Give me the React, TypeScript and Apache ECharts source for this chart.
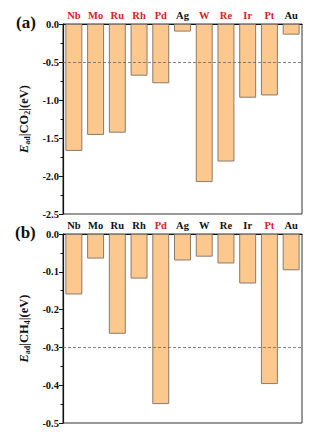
import React, { useEffect, useRef } from "react";
import * as echarts from "echarts";

const metals = ["Nb", "Mo", "Ru", "Rh", "Pd", "Ag", "W", "Re", "Ir", "Pt", "Au"];
const co2Values = [-1.67, -1.46, -1.43, -0.68, -0.78, -0.1, -2.08, -1.81, -0.97, -0.94, -0.14];
const ch4Values = [-0.16, -0.065, -0.264, -0.118, -0.45, -0.07, -0.06, -0.078, -0.131, -0.397, -0.096];
const redTop = ["Nb", "Mo", "Ru", "Rh", "Pd", "W", "Re", "Ir", "Pt"];
const redBottom = ["Pd", "Pt"];
const co2Threshold = -0.5;
const ch4Threshold = -0.3;

const FONT = "'Liberation Serif', 'Times New Roman', serif";
const RED = "#d42323";

export default function App() {
  const ref = useRef<HTMLDivElement>(null);
  useEffect(() => {
    if (!ref.current) return;
    const chart = echarts.init(ref.current, null, { renderer: "svg" });
    const cat = (reds: string[]) =>
      metals.map((m) => ({
        value: m,
        textStyle: { color: reds.includes(m) ? RED : "#111" },
      }));
    const xAxisBase = {
      type: "category" as const,
      position: "top" as const,
      axisLine: { show: true, lineStyle: { color: "#111", width: 1.2 } },
      axisTick: { show: false },
      axisLabel: {
        fontFamily: FONT,
        fontWeight: "bold",
        fontSize: 10.5,
        margin: 3,
        interval: 0,
      },
    };
    const yAxisBase = {
      type: "value" as const,
      max: 0,
      nameLocation: "middle" as const,
      nameRotate: 90,
      axisLine: { show: true, lineStyle: { color: "#111", width: 1.2 } },
      axisTick: { show: true, length: 4, lineStyle: { color: "#111" } },
      minorTick: { show: true, splitNumber: 2, length: 2.5, lineStyle: { color: "#111" } },
      splitLine: { show: false },
      axisLabel: {
        fontFamily: FONT,
        fontWeight: "bold",
        fontSize: 10.5,
        color: "#111",
        margin: 4,
        formatter: (v: number) => v.toFixed(1),
      },
    };
    const nameStyle = {
      fontFamily: FONT,
      fontWeight: "bold",
      fontSize: 12.5,
      color: "#111",
      rich: {
        i: { fontFamily: FONT, fontWeight: "bold", fontStyle: "italic", fontSize: 12.5, color: "#111", lineHeight: 15 },
        n: { fontFamily: FONT, fontWeight: "bold", fontSize: 12.5, color: "#111", lineHeight: 15 },
        s: { fontFamily: FONT, fontWeight: "bold", fontSize: 8, color: "#111", verticalAlign: "bottom", lineHeight: 10, padding: [4, 0, 0, 0] },
      },
    };
    const barStyle = {
      color: "#fdc88e",
      borderColor: "#8a7b6c",
      borderWidth: 1,
    };
    const mark = (v: number) => ({
      silent: true,
      symbol: "none",
      label: { show: false },
      lineStyle: { type: [3, 2], color: "#666", width: 0.8 },
      data: [{ yAxis: v }],
    });
    chart.setOption({
      animation: false,
      grid: [
        { left: 63, top: 24, width: 239, height: 190, show: true, borderColor: "#333", borderWidth: 1 },
        { left: 63, top: 234, width: 239, height: 189, show: true, borderColor: "#333", borderWidth: 1 },
      ],
      xAxis: [
        { ...xAxisBase, gridIndex: 0, data: cat(redTop) },
        { ...xAxisBase, gridIndex: 1, data: cat(redBottom) },
      ],
      yAxis: [
        {
          ...yAxisBase,
          gridIndex: 0,
          min: -2.5,
          interval: 0.5,
          name: "{i|E}{s|ad}{n||CO}{s|2}{n||(eV)}",
          nameGap: 31,
          nameTextStyle: nameStyle,
        },
        {
          ...yAxisBase,
          gridIndex: 1,
          min: -0.5,
          interval: 0.1,
          name: "{i|E}{s|ad}{n||CH}{s|4}{n||(eV)}",
          nameGap: 31,
          nameTextStyle: nameStyle,
        },
      ],
      graphic: [
        { type: "text", left: 16, top: 14, style: { text: "(a)", font: `bold 17px ${FONT}`, fill: "#111" } },
        { type: "text", left: 15, top: 224, style: { text: "(b)", font: `bold 17px ${FONT}`, fill: "#111" } },
      ],
      series: [
        {
          type: "bar",
          xAxisIndex: 0,
          yAxisIndex: 0,
          data: co2Values,
          barCategoryGap: "22%",
          itemStyle: barStyle,
          markLine: mark(co2Threshold),
        },
        {
          type: "bar",
          xAxisIndex: 1,
          yAxisIndex: 1,
          data: ch4Values,
          barCategoryGap: "22%",
          itemStyle: barStyle,
          markLine: mark(ch4Threshold),
        },
      ],
    });
    return () => chart.dispose();
  }, []);
  return <div ref={ref} style={{ width: 315, height: 434, position: "absolute", left: 0, top: 0 }} />;
}
